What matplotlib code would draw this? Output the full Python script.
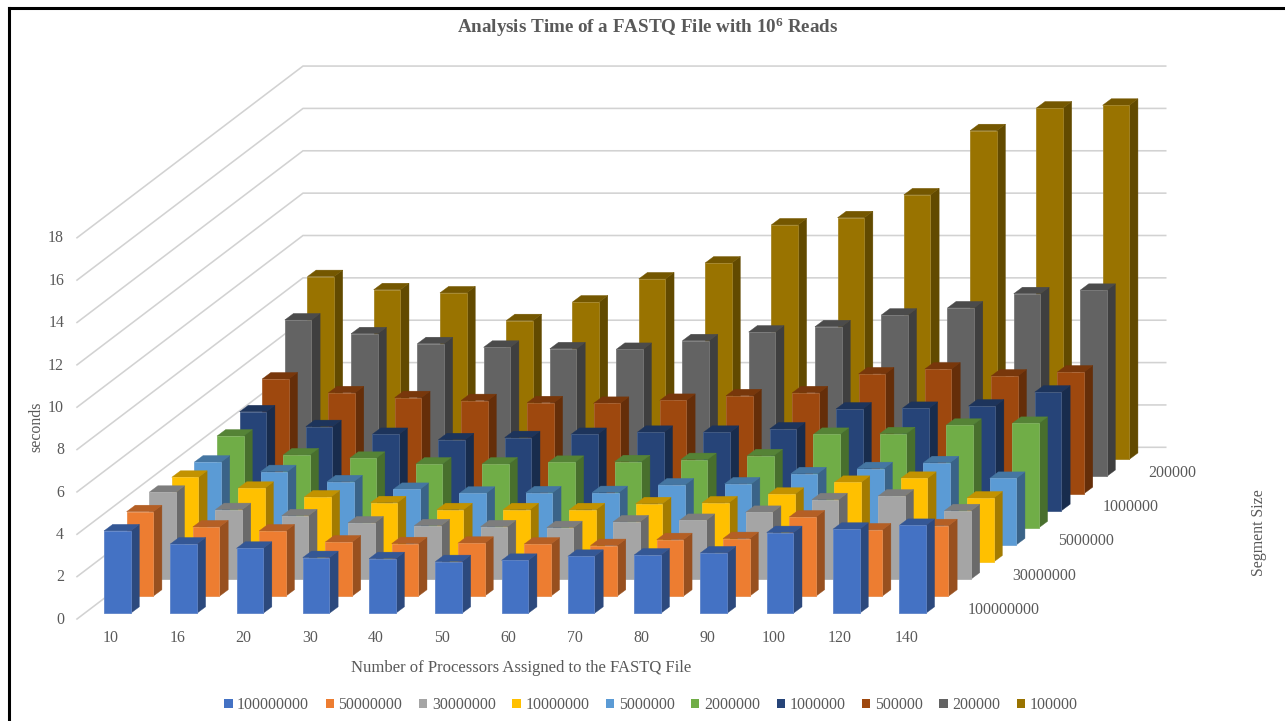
import matplotlib
matplotlib.use("Agg")
import matplotlib.pyplot as plt
from matplotlib.lines import Line2D
from matplotlib.colors import to_rgb
import numpy as np

plt.rcParams['font.family'] = ['Liberation Serif', 'DejaVu Serif']
plt.rcParams['mathtext.fontset'] = 'custom'
plt.rcParams['mathtext.rm'] = 'Liberation Serif:bold'
plt.rcParams['mathtext.default'] = 'rm'

processors = [10, 16, 20, 30, 40, 50, 60, 70, 80, 90, 100, 120, 140]
segment_names = ['100000000', '50000000', '30000000', '10000000', '5000000',
                 '2000000', '1000000', '500000', '200000', '100000']
depth_labels = {0: '100000000', 2: '30000000', 4: '5000000', 6: '1000000', 8: '200000'}

s_100000000 = [3.89, 3.27, 3.07, 2.63, 2.58, 2.44, 2.50, 2.69, 2.75, 2.85, 3.81, 3.97, 4.15]
s_50000000 = [3.99, 3.27, 3.08, 2.56, 2.48, 2.50, 2.46, 2.39, 2.67, 2.72, 3.74, 3.13, 3.33]
s_30000000 = [4.10, 3.28, 2.99, 2.65, 2.52, 2.47, 2.43, 2.70, 2.77, 3.15, 3.75, 3.92, 3.23]
s_10000000 = [4.00, 3.48, 3.07, 2.80, 2.47, 2.47, 2.47, 2.75, 2.79, 3.20, 3.76, 3.95, 3.02]
s_5000000 = [3.91, 3.46, 2.98, 2.62, 2.44, 2.46, 2.47, 2.83, 2.88, 3.36, 3.60, 3.88, 3.14]
s_2000000 = [4.33, 3.44, 3.28, 3.01, 3.01, 3.09, 3.12, 3.22, 3.40, 4.41, 4.44, 4.84, 4.93]
s_1000000 = [4.67, 3.97, 3.60, 3.35, 3.45, 3.60, 3.70, 3.70, 3.86, 4.80, 4.83, 4.94, 5.60]
s_500000 = [5.41, 4.76, 4.53, 4.39, 4.29, 4.26, 4.40, 4.62, 4.76, 5.65, 5.88, 5.55, 5.74]
s_200000 = [7.39, 6.74, 6.27, 6.10, 6.03, 6.00, 6.41, 6.82, 7.07, 7.62, 7.96, 8.63, 8.79]
s_100000 = [8.63, 8.01, 7.86, 6.55, 7.43, 8.52, 9.27, 11.07, 11.41, 12.49, 15.52, 16.59, 16.72]
series = [s_100000000, s_50000000, s_30000000, s_10000000, s_5000000,
          s_2000000, s_1000000, s_500000, s_200000, s_100000]
colors = ['#4472C4', '#ED7D31', '#A5A5A5', '#FFC000', '#5B9BD5',
          '#70AD47', '#264478', '#9E480E', '#636363', '#997300']
y_ticks = list(range(0, 20, 2))

W, H = 1285, 721
PX_X, PX_Y = 66.27, 21.18           # pixels per category / per second
X0, Y0 = 104.0, 613.3               # pixel position of first bar's front-left base
L, R, T, B = 70, 1170, 60, 624      # axes box in pixels

ROW_DX, ROW_DY = 22.6 / PX_X, 17.1 / PX_Y
SIDE_DX, SIDE_DY = 8.7 / PX_X, 6.5 / PX_Y
BAR_W = 26.6 / PX_X

fig = plt.figure(figsize=(W / 100, H / 100), dpi=100, facecolor='white')
ax = fig.add_axes([L / W, 1 - B / H, (R - L) / W, (B - T) / H], facecolor='none')
ax.set_xlim((L - X0) / PX_X, (R - X0) / PX_X)
ax.set_ylim((Y0 - B) / PX_Y, (Y0 - T) / PX_Y)
for s in ax.spines.values():
    s.set_visible(False)


def shade(c, f):
    return tuple(v * f for v in to_rgb(c))


def light(c, f=0.18):
    return tuple(v + (0.85 - v) * f for v in to_rgb(c))


# walls: gridlines run along the side wall then along the back wall
FRONT_X, FRONT_Y = (77 - X0) / PX_X, (Y0 - 619.0) / PX_Y
BACK_X, BACK_Y = (303 - X0) / PX_X, (Y0 - 447.3) / PX_Y
END_X = (1165.7 - X0) / PX_X
for v in y_ticks:
    ax.plot([FRONT_X, BACK_X, END_X], [FRONT_Y + v, BACK_Y + v, BACK_Y + v],
            color='#D2D2D2', lw=1.15, zorder=1, solid_joinstyle='miter')

# bars, back row first
idx = np.arange(len(processors))
for j in range(len(series) - 1, -1, -1):
    vals = np.array(series[j], dtype=float)
    col = colors[j]
    z = 10 + (len(series) - j) * 2
    xs = idx + j * ROW_DX
    base = j * ROW_DY
    ax.bar(xs, vals, width=BAR_W, bottom=base, align='edge', color=col,
           edgecolor=light(col), linewidth=0.6, zorder=z + 1, label=segment_names[j])
    for x, v in zip(xs, vals):
        xr = x + BAR_W
        top = base + v
        ax.fill([xr, xr + SIDE_DX, xr + SIDE_DX, xr],
                [base, base + SIDE_DY, top + SIDE_DY, top],
                facecolor=shade(col, 0.64), edgecolor=shade(col, 0.64), lw=0.3, zorder=z)
        ax.fill([x, x + SIDE_DX, xr + SIDE_DX, xr],
                [top, top + SIDE_DY, top + SIDE_DY, top],
                facecolor=shade(col, 0.76), edgecolor=shade(col, 0.76), lw=0.3, zorder=z)

TXT = '#595959'
FS = 11.4
ax.set_xticks(idx + (111 - X0) / PX_X, [str(p) for p in processors])
ax.set_yticks(np.array(y_ticks) + (Y0 - 617.7) / PX_Y, [str(v) for v in y_ticks])
ax.tick_params(axis='x', length=0, pad=4.5, labelsize=FS, labelcolor=TXT)
ax.tick_params(axis='y', length=0, pad=4.3, labelsize=FS, labelcolor=TXT)

# depth-axis labels
for j, name in depth_labels.items():
    ax.text(12 + j * ROW_DX + 68 / PX_X, j * ROW_DY + 3.5 / PX_Y, name, ha='left',
            va='center', fontsize=FS, color=TXT, zorder=40)

ax.set_xlabel('Number of Processors Assigned to the FASTQ File', fontsize=11.95, color=TXT)
ax.xaxis.set_label_coords((521.5 - L) / (R - L), (B - 668.5) / (B - T))
ax.xaxis.label.set_va('center')
ax.set_ylabel('seconds', fontsize=FS, color=TXT)
ax.yaxis.set_label_coords((36 - L) / (R - L), (B - 427) / (B - T))
ax.yaxis.label.set_va('center')

fig.text(1259 / W, 1 - 533 / H, 'Segment Size', rotation=90, ha='center', va='center',
         fontsize=FS, color=TXT)
fig.text(648 / W, 1 - 27.5 / H, r'Analysis Time of a FASTQ File with 10$^{6}$ Reads',
         ha='center', va='center', fontsize=13.7, fontweight='bold', color=TXT)

# legend in series order
handles, labels = ax.get_legend_handles_labels()
order = [labels.index(n) for n in segment_names]
leg = fig.legend([handles[i] for i in order], [labels[i] for i in order], ncols=10,
                 loc='center', bbox_to_anchor=(651 / W, 1 - 705 / H), frameon=False,
                 fontsize=FS, handlelength=0.52, handleheight=0.52, handletextpad=0.28,
                 columnspacing=1.06, borderpad=0, labelcolor=TXT)
for h in leg.legend_handles:
    h.set_edgecolor('none')

# outer frame: left and top edges only
fig.add_artist(Line2D([9 / W, 9 / W], [0, 1 - 7.5 / H], color='black', lw=2.2,
                      transform=fig.transFigure, solid_capstyle='projecting'))
fig.add_artist(Line2D([9 / W, 1], [1 - 7.5 / H, 1 - 7.5 / H], color='black', lw=2.2,
                      transform=fig.transFigure, solid_capstyle='projecting'))

fig.savefig('out.png', dpi=100)
